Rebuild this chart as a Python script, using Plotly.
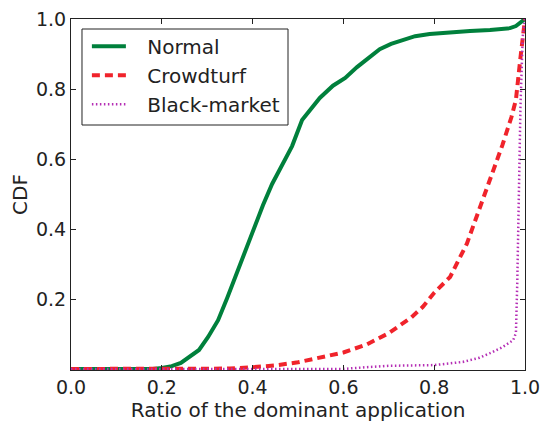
import plotly.graph_objects as go

# CDF of the ratio of the dominant application, per account type
normal_x = [0.0, 0.18, 0.20, 0.222, 0.242, 0.262, 0.282, 0.302, 0.324, 0.344, 0.363,
            0.383, 0.403, 0.423, 0.443, 0.463, 0.487, 0.509, 0.529, 0.548, 0.577,
            0.604, 0.63, 0.654, 0.68, 0.705, 0.731, 0.758, 0.79, 0.835, 0.879,
            0.923, 0.967, 0.98, 1.0]
normal_y = [0.003, 0.003, 0.006, 0.011, 0.02, 0.037, 0.057, 0.094, 0.142, 0.205, 0.268,
            0.336, 0.407, 0.47, 0.53, 0.58, 0.638, 0.712, 0.746, 0.775, 0.81,
            0.832, 0.863, 0.886, 0.914, 0.929, 0.94, 0.951, 0.957, 0.963, 0.966,
            0.969, 0.974, 0.98, 1.0]

crowd_x = [0.0, 0.3, 0.35, 0.4, 0.45, 0.5, 0.55, 0.6, 0.65, 0.7, 0.75, 0.775, 0.8,
           0.835, 0.872, 0.9, 0.925, 0.95, 0.97, 0.98, 0.99, 0.995, 1.0]
crowd_y = [0.003, 0.003, 0.004, 0.008, 0.013, 0.022, 0.035, 0.05, 0.072, 0.105, 0.15,
           0.18, 0.22, 0.265, 0.36, 0.46, 0.55, 0.64, 0.72, 0.77, 0.89, 0.95, 1.0]

black_x = [0.0, 0.6, 0.65, 0.7, 0.75, 0.8, 0.863, 0.9, 0.923, 0.95, 0.974, 0.98,
           0.983, 0.986, 0.99, 0.995, 1.0]
black_y = [0.003, 0.003, 0.008, 0.012, 0.013, 0.014, 0.023, 0.035, 0.048, 0.065, 0.085,
           0.105, 0.25, 0.5, 0.75, 0.95, 1.0]

series_names = ["Normal", "Crowdturf", "Black-market"]

x_ticks = [0.0, 0.2, 0.4, 0.6, 0.8, 1.0]
y_ticks = [0.2, 0.4, 0.6, 0.8, 1.0]

FONT = "DejaVu Sans"
INK = "#222222"
PAD = "\u2002\u00a0"  # gap between legend swatch and label

fig = go.Figure()
fig.add_trace(go.Scatter(x=normal_x, y=normal_y, mode="lines", name=PAD + series_names[0],
                         line=dict(color="#00803c", width=4)))
fig.add_trace(go.Scatter(x=crowd_x, y=crowd_y, mode="lines", name=PAD + series_names[1],
                         line=dict(color="#f0232b", width=4, dash="8px,5px")))
fig.add_trace(go.Scatter(x=black_x, y=black_y, mode="lines", name=PAD + series_names[2],
                         line=dict(color="#b52fb5", width=2.5, dash="1.5px,2.5px")))

axis_common = dict(
    showgrid=False, zeroline=False, showline=True, linecolor=INK, linewidth=1,
    mirror="ticks", ticks="inside", ticklen=5, tickcolor=INK, tickwidth=1,
    tickfont=dict(family=FONT, size=19, color=INK), automargin=False,
)

fig.update_xaxes(range=[0, 1], tickvals=x_ticks, tickformat=".1f",
                 title=dict(text="Ratio of the dominant application",
                            font=dict(family=FONT, size=20, color=INK), standoff=4),
                 **axis_common)
fig.update_yaxes(range=[0, 1], tickvals=y_ticks, tickformat=".1f",
                 title=dict(text="CDF", font=dict(family=FONT, size=20, color=INK),
                            standoff=2),
                 **axis_common)

# legend frame
fig.add_shape(type="rect", xref="paper", yref="paper",
              x0=0.0242, x1=0.478, y0=0.698, y1=0.9715,
              line=dict(color=INK, width=1), fillcolor="white", layer="below")

fig.update_layout(
    width=543, height=422,
    margin=dict(l=71, r=18, t=19, b=52),
    plot_bgcolor="white", paper_bgcolor="white",
    font=dict(family=FONT, color=INK),
    legend=dict(x=0.035, y=0.978, xanchor="left", yanchor="top",
                bgcolor="rgba(0,0,0,0)", borderwidth=0,
                font=dict(family=FONT, size=20, color=INK),
                itemwidth=34),
)

fig.write_html("out.html")
